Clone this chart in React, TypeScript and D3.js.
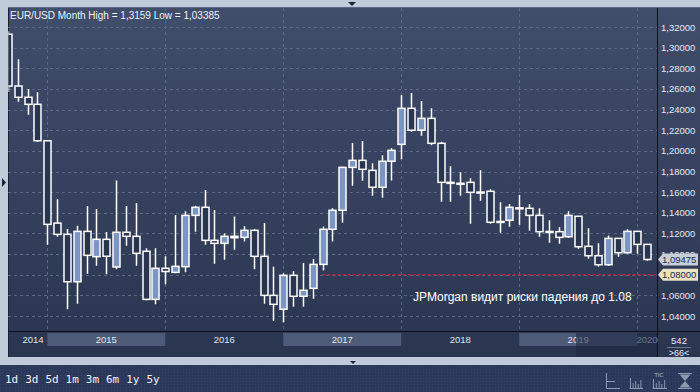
import React from "react";
import * as d3 from "d3";

const months = [
  "2014-09","2014-10","2014-11","2014-12",
  "2015-01","2015-02","2015-03","2015-04","2015-05","2015-06","2015-07","2015-08","2015-09","2015-10","2015-11","2015-12",
  "2016-01","2016-02","2016-03","2016-04","2016-05","2016-06","2016-07","2016-08","2016-09","2016-10","2016-11","2016-12",
  "2017-01","2017-02","2017-03","2017-04","2017-05","2017-06","2017-07","2017-08","2017-09","2017-10","2017-11","2017-12",
  "2018-01","2018-02","2018-03","2018-04","2018-05","2018-06","2018-07","2018-08","2018-09","2018-10","2018-11","2018-12",
  "2019-01","2019-02","2019-03","2019-04","2019-05","2019-06","2019-07","2019-08","2019-09","2019-10","2019-11","2019-12",
  "2020-01","2020-02"
];

const opens = [
  1.3130, 1.2628, 1.2519, 1.2451,
  1.2098, 1.1300, 1.1191, 1.0732, 1.1220, 1.0975, 1.1143, 1.0875, 1.1211, 1.1172, 1.1027, 1.0561,
  1.0862, 1.0823, 1.0878, 1.1375, 1.1453, 1.1133, 1.1104, 1.1172, 1.1162, 1.1230, 1.0978, 1.0600,
  1.0465, 1.0794, 1.0591, 1.0668, 1.0900, 1.1240, 1.1424, 1.1840, 1.1908, 1.1811, 1.1647, 1.1899,
  1.2063, 1.2412, 1.2200, 1.2315, 1.2073, 1.1695, 1.1686, 1.1695, 1.1598, 1.1608, 1.1312, 1.1327,
  1.1448, 1.1443, 1.1375, 1.1219, 1.1217, 1.1168, 1.1366, 1.1075, 1.0984, 1.0897, 1.1152, 1.1013,
  1.1220, 1.1094
];
const highs = [
  1.3159, 1.2887, 1.2600, 1.2567,
  1.2105, 1.1533, 1.1243, 1.1275, 1.1466, 1.1436, 1.1214, 1.1714, 1.1466, 1.1495, 1.1056, 1.1056,
  1.0978, 1.1378, 1.1414, 1.1469, 1.1620, 1.1427, 1.1200, 1.1365, 1.1270, 1.1240, 1.1301, 1.0878,
  1.0813, 1.0836, 1.0913, 1.0952, 1.1268, 1.1443, 1.1846, 1.2076, 1.2095, 1.1879, 1.1957, 1.2025,
  1.2541, 1.2560, 1.2483, 1.2412, 1.2089, 1.1850, 1.1792, 1.1734, 1.1811, 1.1627, 1.1501, 1.1485,
  1.1572, 1.1485, 1.1443, 1.1327, 1.1260, 1.1414, 1.1370, 1.1249, 1.1104, 1.1181, 1.1152, 1.1240,
  1.1220, 1.1094
];
const lows = [
  1.2571, 1.2476, 1.2350, 1.2089,
  1.1090, 1.1168, 1.0465, 1.0519, 1.0810, 1.0887, 1.0805, 1.0852, 1.1081, 1.0887, 1.0552, 1.0513,
  1.0707, 1.0813, 1.0823, 1.1217, 1.1091, 1.0907, 1.0945, 1.1042, 1.1123, 1.0852, 1.0519, 1.0352,
  1.03385, 1.0490, 1.0490, 1.0567, 1.0842, 1.1123, 1.1304, 1.1662, 1.1710, 1.1566, 1.1546, 1.1714,
  1.1918, 1.2186, 1.2147, 1.2054, 1.1507, 1.1507, 1.1566, 1.1294, 1.1517, 1.1294, 1.1207, 1.1265,
  1.1285, 1.1226, 1.1168, 1.1110, 1.1100, 1.1158, 1.1052, 1.0955, 1.0878, 1.0887, 1.0974, 1.1005,
  1.1004, 1.0935
];
const closes = [
  1.2628, 1.2519, 1.2451, 1.2098,
  1.1288, 1.1191, 1.0732, 1.1220, 1.0988, 1.1143, 1.0979, 1.1211, 1.1172, 1.1007, 1.0561, 1.0862,
  1.0831, 1.0881, 1.1375, 1.1453, 1.1133, 1.1104, 1.1172, 1.1158, 1.1230, 1.0978, 1.0600, 1.0513,
  1.0794, 1.0591, 1.0649, 1.0900, 1.1240, 1.1424, 1.1840, 1.1908, 1.1821, 1.1647, 1.1899, 1.2005,
  1.2412, 1.2200, 1.2315, 1.2073, 1.1695, 1.1686, 1.1676, 1.1598, 1.1601, 1.1308, 1.1316, 1.1453,
  1.1444, 1.1375, 1.1217, 1.1215, 1.1162, 1.1375, 1.1071, 1.0984, 1.0897, 1.1152, 1.1013, 1.1220,
  1.1094, 1.09475
];

const yTicks = [1.04, 1.06, 1.08, 1.10, 1.12, 1.14, 1.16, 1.18, 1.20, 1.22, 1.24, 1.26, 1.28, 1.30, 1.32];
const years = ["2014", "2015", "2016", "2017", "2018", "2019", "2020"];
const periodButtons = ["1d", "3d", "5d", "1m", "3m", "6m", "1y", "5y"];

const title = "EUR/USD Month High = 1,3159 Low = 1,03385";
const lastPrice = 1.09475;
const targetLevel = 1.08;
const targetStartMonth = "2017-05";
const annotation = "JPMorgan видит риски падения до 1.08";
const barsTotal = "542";
const barsVisible = ">66<";

const W = 700, H = 392;
const L = 8, R = 657, T = 8, B = 331;
const FONT = "'Liberation Sans', Arial, sans-serif";

const fmt = (v: number) => v.toFixed(5).replace(".", ",");

export default function App() {
  const x = d3.scaleLinear().domain([0, months.length - 1]).range([L, 647]);
  const y = d3.scaleLinear().domain([1.04, 1.32]).range([316, 27]);
  const bodyW = 7;

  const yearStart = (yr: string) => {
    const i = months.indexOf(yr + "-01");
    if (i >= 0) return x(i);
    const first = months[0];
    const m = +first.slice(5, 7);
    return x(-(m - 1));
  };
  const yearBands = years.map((yr, k) => {
    const s = yearStart(yr);
    const e = k < years.length - 1 ? yearStart(years[k + 1]) : s + (x(12) - x(0));
    const cs = Math.max(s, L), ce = Math.min(e, R);
    let cx = (cs + ce) / 2;
    cx = Math.max(cx, L + 25);
    cx = Math.min(cx, R - 10);
    return { yr, s: cs, e: ce, cx, light: +yr % 2 === 1 };
  });
  const gridXs = years.map(yearStart).filter((v) => v > L && v < R);

  const iconColor = "#8d99b0";

  return (
    <svg width={W} height={H} style={{ position: "absolute", left: 0, top: 0, fontFamily: FONT }}>
      <defs>
        <linearGradient id="bg" x1="0" y1="0" x2="0" y2="1">
          <stop offset="0" stopColor="#404d6b" />
          <stop offset="1" stopColor="#2a3550" />
        </linearGradient>
        <pattern id="dots" width="3" height="3" patternUnits="userSpaceOnUse">
          <rect width="3" height="3" fill="#2b3859" />
          <rect width="1" height="1" fill="#34426a" />
        </pattern>
        <clipPath id="plotClip">
          <rect x={L + 0.5} y={T} width={R - L - 0.5} height={B - T} />
        </clipPath>
      </defs>

      {/* frame */}
      <rect x={0} y={0} width={W} height={H} fill="#c0cbd9" />
      <rect x={L} y={T} width={W - L} height={357 - T} fill="url(#bg)" />
      <line x1={L} y1={T - 0.5} x2={W} y2={T - 0.5} stroke="#5d6a82" />
      <line x1={L + 0.5} y1={T} x2={L + 0.5} y2={357} stroke="#1b2234" />
      <path d="M348,2 L356,2 L352,6 Z" fill="#1b2438" />
      <path d="M2,178 L6,182.5 L2,187 Z" fill="#1b2438" />

      {/* grid */}
      {yTicks.map((t) => (
        <line key={"gy" + t} x1={L} x2={R} y1={Math.round(y(t)) + 0.5} y2={Math.round(y(t)) + 0.5}
          stroke="#5b6884" strokeDasharray="3,3" />
      ))}
      {gridXs.map((gx, i) => (
        <line key={"gx" + i} x1={Math.round(gx) + 0.5} x2={Math.round(gx) + 0.5} y1={T} y2={B}
          stroke="#5b6884" strokeDasharray="3,3" />
      ))}

      {/* target line */}
      <line x1={x(months.indexOf(targetStartMonth))} x2={R} y1={y(targetLevel)} y2={y(targetLevel)}
        stroke="#b3263a" strokeWidth={1.5} strokeDasharray="3,2" />

      {/* candles */}
      <g clipPath="url(#plotClip)">
        {months.map((m, i) => {
          const o = opens[i], c = closes[i];
          const cx = Math.round(x(i)) + 0.5;
          const top = y(Math.max(o, c));
          const bot = y(Math.min(o, c));
          const up = c > o;
          return (
            <g key={m}>
              <line x1={cx} x2={cx} y1={y(highs[i])} y2={y(lows[i])} stroke="#ffffff" strokeWidth={1.5} />
              <rect x={cx - bodyW / 2} y={top} width={bodyW} height={Math.max(bot - top, 1)}
                fill={up ? "#7b96c0" : "#29344f"} stroke="#ffffff" strokeWidth={1.5} />
            </g>
          );
        })}
      </g>

      <text x={10} y={19} fill="#eef2f8" fontSize={10}>{title}</text>
      <text x={413} y={301} fill="#ffffff" fontSize={12}>{annotation}</text>

      {/* right axis */}
      <line x1={R + 0.5} x2={R + 0.5} y1={T} y2={357} stroke="#0e1220" />
      {yTicks.map((t) => (
        <text key={"yt" + t} x={661} y={y(t) + 3.5} fill="#e4eaf4" fontSize={9.5}>{fmt(t)}</text>
      ))}
      {/* last price tag */}
      <g>
        <path d={`M${R + 1},${y(lastPrice)} L${R + 6},${y(lastPrice) - 6} L${698},${y(lastPrice) - 6} L${698},${y(lastPrice) + 6} L${R + 6},${y(lastPrice) + 6} Z`}
          fill="#c7cfda" />
        <text x={662} y={y(lastPrice) + 3.5} fill="#1d2946" fontSize={9.5}>{fmt(lastPrice)}</text>
      </g>
      <g>
        <path d={`M${R + 1},${y(targetLevel)} L${R + 6},${y(targetLevel) - 6} L${698},${y(targetLevel) - 6} L${698},${y(targetLevel) + 6} L${R + 6},${y(targetLevel) + 6} Z`}
          fill="#e9e3c3" />
        <text x={662} y={y(targetLevel) + 3.5} fill="#1d2946" fontSize={9.5}>{fmt(targetLevel)}</text>
      </g>

      {/* x axis band */}
      <line x1={L} x2={W} y1={B + 0.5} y2={B + 0.5} stroke="#0e1220" />
      {yearBands.filter((b) => b.light).map((b) => (
        <rect key={"yb" + b.yr} x={b.s} y={333} width={b.e - b.s} height={13} fill="#4d5b78" />
      ))}
      {yearBands.map((b) => (
        <text key={"yl" + b.yr} x={b.cx} y={343} textAnchor="middle" fill="#dfe6f1" fontSize={9.5}>{b.yr}</text>
      ))}
      <rect x={576} y={333} width={R - 576} height={24} fill="#1e2843" opacity={0.6} />
      <text x={679} y={344} textAnchor="middle" fill="#e4eaf4" fontSize={9.5}>{barsTotal}</text>
      <line x1={667} x2={691} y1={347.5} y2={347.5} stroke="#6c7890" />
      <text x={679} y={356} textAnchor="middle" fill="#e4eaf4" fontSize={9}>{barsVisible}</text>
      <path d="M350,361 L356,361 L353,364 Z" fill="#1b2438" />

      {/* toolbar */}
      <rect x={0} y={365} width={W} height={H - 365} fill="url(#dots)" />
      {periodButtons.map((p, i) => (
        <text key={p} x={5 + i * 20.2} y={383} fill="#eef2f8" fontSize={11}
          fontFamily="'DejaVu Sans Mono', monospace">{p}</text>
      ))}
      {/* icons */}
      <g stroke={iconColor} strokeWidth={1} fill="none">
        <path d="M606.5,373 V388.5 H620" />
        <path d="M606.5,381.5 H615" />
        <path d="M629.5,388.5 H643" />
        {[0, 1, 2, 3, 4].map((k) => (
          <line key={"b1" + k} x1={630.5 + k * 2.6} x2={630.5 + k * 2.6} y1={388} y2={[378, 383, 381, 384, 380][k]} />
        ))}
        <path d="M652.5,388.5 H667" />
        {[0, 1, 2, 3, 4].map((k) => (
          <line key={"b2" + k} x1={653.5 + k * 2.8} x2={653.5 + k * 2.8} y1={388} y2={[379, 383, 381, 384, 380][k]} />
        ))}
        <path d="M678,373.5 H692 M678,388.5 H692" />
      </g>
      <text x={659} y={377} fill={iconColor} fontSize={5.5} fontWeight="bold" textAnchor="middle">TIC</text>
      <path d="M679.5,374.5 L690.5,374.5 L685,381 Z M685,381 L690.5,387.5 L679.5,387.5 Z" fill={iconColor} />
    </svg>
  );
}
